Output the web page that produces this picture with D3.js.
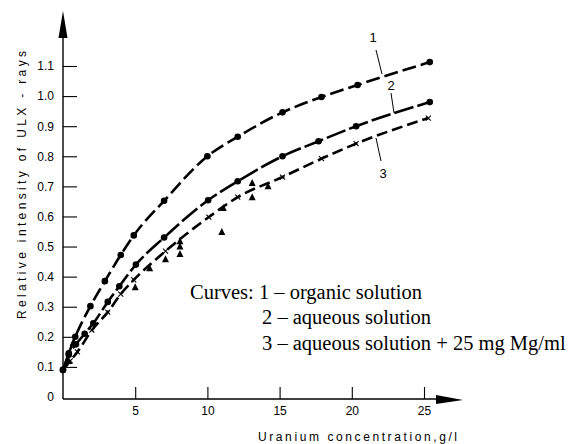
<!DOCTYPE html>
<html><head><meta charset="utf-8">
<script src="https://cdn.jsdelivr.net/npm/d3@7"></script>
<style>body{margin:0;background:#fff}</style>
</head><body>
<svg id="c" width="574" height="444"></svg>
<script>
// Data
const c1x = [0,0.4,0.85,1.9,2.9,4.0,4.9,7.0,10.0,12.1,15.2,17.9,20.4,25.4];
const c1y = [0.09,0.145,0.20,0.302,0.385,0.472,0.537,0.652,0.80,0.865,0.946,0.997,1.037,1.113];
const c2x = [0,0.4,0.9,1.5,2.1,3.1,3.9,5.05,7.0,10.05,12.1,15.2,17.7,20.3,25.4];
const c2y = [0.09,0.14,0.175,0.21,0.245,0.316,0.368,0.44,0.53,0.654,0.717,0.80,0.85,0.90,0.98];
const c3x = [0.5,1.0,2.0,3.1,4.0,4.9,7.1,10.1,12.1,15.2,17.9,20.3,25.3];
const c3y = [0.12,0.15,0.222,0.282,0.342,0.389,0.485,0.598,0.664,0.731,0.792,0.842,0.927];
const triX = [0.4,0.7,5.0,6.0,7.1,8.1,8.1,8.1,11.0,11.1,13.1,13.1,14.2];
const triY = [0.12,0.18,0.365,0.428,0.458,0.475,0.50,0.518,0.548,0.628,0.664,0.711,0.70];
const xTicks = [5,10,15,20,25];
const yTicks = [0,0.1,0.2,0.3,0.4,0.5,0.6,0.7,0.8,0.9,1.0,1.1];
const yTitle = "Relative  intensity  of  ULX - rays";
const xTitle = "Uranium  concentration,g/l";
const legendLines = ["Curves: 1 \u2013 organic solution","2 \u2013 aqueous solution","3 \u2013 aqueous solution + 25 mg Mg/ml"];
const curveLabels = ["1","2","3"];

const svg = d3.select("#c");
const x = d3.scaleLinear().domain([0,25]).range([63,424]);
const y = d3.scaleLinear().domain([0,1.1]).range([397,66]);
const sans = "'Liberation Sans', Arial, sans-serif";

// axes lines with arrows
svg.append("line").attr("x1",x(0)).attr("x2",x(0)).attr("y1",399).attr("y2",30)
  .attr("stroke","#000").attr("stroke-width",1.4);
svg.append("path").attr("d",`M${x(0)},11 L${x(0)-4.5},38 L${x(0)+4.5},38 Z`).attr("fill","#000");
svg.append("line").attr("x1",x(0)).attr("x2",445).attr("y1",399).attr("y2",399)
  .attr("stroke","#000").attr("stroke-width",1.4);
svg.append("path").attr("d",`M463,400 L436,395 L436,404 Z`).attr("fill","#000");

// y axis ticks
const ya = svg.append("g").attr("transform",`translate(${x(0)},0)`)
  .call(d3.axisLeft(y).tickValues(yTicks).tickSize(-14).tickPadding(9)
    .tickFormat(d => d===0 ? "0" : d3.format(".1f")(d)));
ya.select(".domain").remove();
ya.selectAll(".tick line").attr("stroke","#000").attr("stroke-width",1.1)
  .filter(d => d===0).remove();
ya.selectAll("text").attr("font-family",sans).attr("font-size",12).attr("fill","#000");

// x axis ticks
const xa = svg.append("g").attr("transform",`translate(0,399)`)
  .call(d3.axisBottom(x).tickValues(xTicks).tickSize(-12).tickPadding(7));
xa.select(".domain").remove();
xa.selectAll(".tick line").attr("stroke","#000").attr("stroke-width",1.1);
xa.selectAll("text").attr("font-family",sans).attr("font-size",12).attr("fill","#000");

// titles
svg.append("text").attr("transform","translate(26,185) rotate(-90)")
  .attr("text-anchor","middle").attr("font-family",sans).attr("font-size",12)
  .attr("textLength",268).attr("lengthAdjust","spacing").text(yTitle);
svg.append("text").attr("x",258).attr("y",441).attr("font-family",sans).attr("font-size",12)
  .attr("textLength",199).attr("lengthAdjust","spacing").text(xTitle);

// curves
const line = d3.line().x(d=>x(d[0])).y(d=>y(d[1])).curve(d3.curveMonotoneX);
const d1 = c1x.map((v,i)=>[v,c1y[i]]);
const d2 = c2x.map((v,i)=>[v,c2y[i]]);
const d3c = [[0,0.09]].concat(c3x.map((v,i)=>[v,c3y[i]]));
svg.append("path").attr("d",line(d1)).attr("fill","none").attr("stroke","#000")
  .attr("stroke-width",2.6).attr("stroke-dasharray","14,5");
svg.append("path").attr("d",line(d2)).attr("fill","none").attr("stroke","#000")
  .attr("stroke-width",2.6).attr("stroke-dasharray","20,4");
svg.append("path").attr("d",line(d3c)).attr("fill","none").attr("stroke","#000")
  .attr("stroke-width",2.6).attr("stroke-dasharray","11,5");

// markers
svg.append("g").selectAll("circle").data(d1.concat(d2)).join("circle")
  .attr("cx",d=>x(d[0])).attr("cy",d=>y(d[1])).attr("r",3.3).attr("fill","#000");
svg.append("g").selectAll("path").data(c3x.map((v,i)=>[v,c3y[i]])).join("path")
  .attr("d",d=>{const cx=x(d[0]),cy=y(d[1]);return `M${cx-2.5},${cy-2.5}L${cx+2.5},${cy+2.5}M${cx-2.5},${cy+2.5}L${cx+2.5},${cy-2.5}`;})
  .attr("stroke","#000").attr("stroke-width",1.1).attr("fill","none");
svg.append("g").selectAll("path").data(triX.map((v,i)=>[v,triY[i]])).join("path")
  .attr("d",d=>{const cx=x(d[0]),cy=y(d[1]);return `M${cx},${cy-4}L${cx+3.5},${cy+3}L${cx-3.5},${cy+3}Z`;})
  .attr("fill","#000");

// curve labels with leader lines
const lab = [{t:curveLabels[0],tx:373,ty:42,l:[376,50,382,74]},
             {t:curveLabels[1],tx:391,ty:90,l:[391,93,394,113]},
             {t:curveLabels[2],tx:383,ty:178,l:[381,161,376,138]}];
lab.forEach(o=>{
  svg.append("text").attr("x",o.tx).attr("y",o.ty).attr("text-anchor","middle")
    .attr("font-family",sans).attr("font-size",13).text(o.t);
  svg.append("line").attr("x1",o.l[0]).attr("y1",o.l[1]).attr("x2",o.l[2]).attr("y2",o.l[3])
    .attr("stroke","#000").attr("stroke-width",1);
});

// legend text
const serif = "'Liberation Serif','Times New Roman',serif";
svg.append("text").attr("x",190).attr("y",299).attr("font-family",serif).attr("font-size",20.5).text(legendLines[0]);
svg.append("text").attr("x",262).attr("y",324).attr("font-family",serif).attr("font-size",20.5).text(legendLines[1]);
svg.append("text").attr("x",262).attr("y",350).attr("font-family",serif).attr("font-size",20.5).text(legendLines[2]);
</script>
</body></html>
